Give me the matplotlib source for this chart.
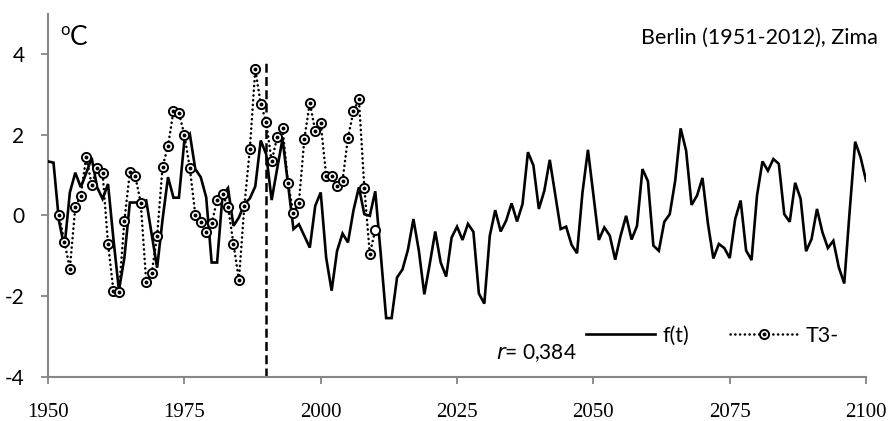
import numpy as np
import matplotlib
matplotlib.use("Agg")
import matplotlib.pyplot as plt
from matplotlib.legend_handler import HandlerTuple

# f(t): yearly values 1950-2100
years_f = np.arange(1950, 2101)
f_t = [
    1.34, 1.31, -0.13, -0.80, 0.57, 1.06, 0.70, 1.05, 1.43, 0.70,      # 1950-59
    0.41, 0.78, -0.60, -1.86, -1.05, 0.32, 0.32, 0.32, 0.37, -0.47,    # 1960-69
    -1.30, -0.10, 0.95, 0.44, 0.44, 1.86, 2.02, 1.15, 0.95, 0.45,      # 1970-79
    -1.17, -1.17, 0.50, 0.68, -0.26, -0.05, 0.28, 0.42, 0.72, 1.86,    # 1980-89
    1.52, 0.38, 1.15, 1.90, 0.78, -0.34, -0.22, -0.51, -0.80, 0.24,    # 1990-99
    0.57, -1.05, -1.87, -0.88, -0.45, -0.67, 0.12, 0.70, 0.03, -0.01,  # 2000-09
    0.60, -0.95, -2.55, -2.55, -1.54, -1.34, -0.85, -0.09, -0.88, -1.96,  # 2010-19
    -1.20, -0.40, -1.17, -1.52, -0.55, -0.28, -0.61, -0.21, -0.41, -1.94,  # 2020-29
    -2.19, -0.51, 0.13, -0.40, -0.13, 0.30, -0.15, 0.28, 1.57, 1.24,   # 2030-39
    0.16, 0.61, 1.38, 0.52, -0.34, -0.28, -0.73, -0.94, 0.57, 1.63,    # 2040-49
    0.52, -0.61, -0.30, -0.50, -1.10, -0.50, -0.01, -0.60, -0.26, 1.15,  # 2050-59
    0.85, -0.75, -0.88, -0.16, 0.03, 0.86, 2.16, 1.61, 0.26, 0.49,     # 2060-69
    0.93, -0.20, -1.07, -0.71, -0.81, -1.06, -0.09, 0.37, -0.87, -1.11,  # 2070-79
    0.49, 1.34, 1.11, 1.40, 1.28, 0.03, -0.16, 0.81, 0.41, -0.89,      # 2080-89
    -0.59, 0.16, -0.42, -0.81, -0.63, -1.29, -1.69, 0.12, 1.83, 1.44,  # 2090-99
    0.86,                                                              # 2100
]

# T3-: observed values 1952-2010
years_t3 = np.arange(1952, 2011)
t3 = [
    0.02, -0.66, -1.32, 0.21, 0.49, 1.45, 0.76, 1.17,                  # 1952-59
    1.06, -0.71, -1.88, -1.90, -0.13, 1.07, 0.97, 0.31, -1.65, -1.44,  # 1960-69
    -0.51, 1.21, 1.72, 2.59, 2.54, 2.00, 1.17, 0.02, -0.17, -0.42,     # 1970-79
    -0.20, 0.38, 0.52, 0.22, -0.71, -1.60, 0.24, 1.64, 3.63, 2.77,     # 1980-89
    2.32, 1.34, 1.94, 2.17, 0.80, 0.06, 0.32, 1.90, 2.80, 2.09,        # 1990-99
    2.29, 0.99, 0.97, 0.73, 0.86, 1.93, 2.58, 2.89, 0.69, -0.96,       # 2000-09
    -0.36,                                                             # 2010
]

split_year = 1990
split_top = 3.8
x_ticks = [1950, 1975, 2000, 2025, 2050, 2075, 2100]
y_ticks = [-4, -2, 0, 2, 4]
r_label = "0,384"

SANS = ["Lato", "DejaVu Sans"]
SERIF = ["Liberation Serif", "DejaVu Serif"]
AXIS_GRAY = "#868686"

fig = plt.figure(figsize=(8.88, 4.21), dpi=100)
ax = fig.add_axes([0.0541, 0.1057, 0.9212, 0.861])

line_f, = ax.plot(years_f, f_t, color="black", lw=1.9, solid_joinstyle="miter",
                  zorder=3, label="f(t)")
line_t3, = ax.plot(years_t3, t3, color="black", lw=1.8,
                   linestyle=(0, (0.1, 1.8)), dash_capstyle="round",
                   marker="o", markersize=6.6, markerfacecolor="white",
                   markeredgecolor="black", markeredgewidth=1.4, zorder=4)
dots, = ax.plot(years_t3[:-1], t3[:-1], linestyle="none", marker="o",
                markersize=1.8, color="black", zorder=5)

ax.vlines(split_year, y_ticks[0], split_top, colors="black", lw=1.8,
          linestyles=(0, (3.6, 1.7)), zorder=2)

ax.set_xlim(1950, 2100)
ax.set_ylim(-4, 5)
ax.set_xticks(x_ticks)
ax.set_yticks(y_ticks)
ax.set_yticklabels([str(v) for v in y_ticks], family=SANS, fontsize=15)
ax.set_xticklabels([str(v) for v in x_ticks], family=SERIF, fontsize=15)
ax.tick_params(axis="y", direction="out", length=5, width=1.3, color=AXIS_GRAY, pad=12)
ax.tick_params(axis="x", direction="out", length=5, width=1.3, color=AXIS_GRAY, pad=14)

for side in ("top", "right"):
    ax.spines[side].set_visible(False)
for side in ("left", "bottom"):
    ax.spines[side].set_color(AXIS_GRAY)
    ax.spines[side].set_linewidth(1.5)

# unit label
ax.text(0.0145, 0.955, "o", transform=ax.transAxes, family=SANS, fontsize=12,
        va="center", ha="left")
ax.text(0.0265, 0.935, "C", transform=ax.transAxes, family=SANS, fontsize=19,
        va="center", ha="left")

fig.text(878 / 888, 1 - 38 / 421, "Berlin (1951-2012), Zima", family=SANS,
         fontsize=15.5, ha="right", va="center")

ax.text(0.547, 0.064, r"$\it{r}$= " + r_label, transform=ax.transAxes,
        family=SANS, fontsize=15, ha="left", va="center")

leg = ax.legend([line_f, (line_t3, dots)], ["f(t)", "T3-"],
                handler_map={tuple: HandlerTuple(ndivide=1, pad=0)},
                ncol=2, frameon=False, prop={"family": SANS, "size": 15.5},
                handlelength=3.2, handletextpad=0.33, columnspacing=1.9,
                borderpad=0, borderaxespad=0,
                loc="center left", bbox_to_anchor=(0.658, 0.112))

fig.savefig("out.png", dpi=100)
